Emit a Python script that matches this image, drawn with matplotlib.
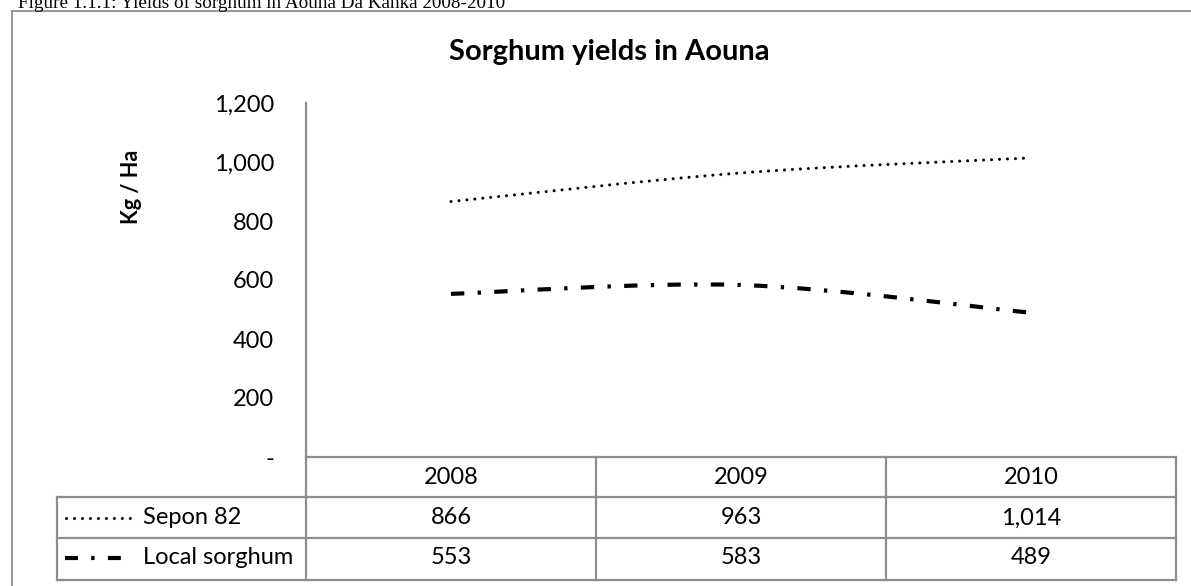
import matplotlib
matplotlib.use('Agg')
import matplotlib.pyplot as plt
import matplotlib.transforms as mtransforms
from matplotlib.path import Path
from matplotlib.patches import PathPatch, Rectangle
from matplotlib.lines import Line2D

# 数据
years = ['2008', '2009', '2010']
sepon_82 = [866, 963, 1014]
local_sorghum = [553, 583, 489]
series_names = ['Sepon 82', 'Local sorghum']
y_ticks = [0, 200, 400, 600, 800, 1000, 1200]
y_tick_labels = ['-', '200', '400', '600', '800', '1,000', '1,200']

W, H = 1191, 586
FONT = ['Lato', 'DejaVu Sans']
GRID = '#8c8c8c'
FS = 17
DOTTED = (0, (0.01, 2.6))
DASHDOT = (0, (3.2, 3.2, 0.8, 3.2))


def fx(x):
    return x / W


def fy(y):
    return 1 - y / H


def smooth_path(xs, ys):
    # 平滑曲线（类似 Excel 的 smoothed line）
    verts = [(xs[0], ys[0])]
    codes = [Path.MOVETO]
    n = len(xs)
    for i in range(n - 1):
        a = i - 1 if i > 0 else i
        b = i + 2 if i + 2 < n else i + 1
        c1 = (xs[i] + (xs[i + 1] - xs[a]) / 6, ys[i] + (ys[i + 1] - ys[a]) / 6)
        c2 = (xs[i + 1] - (xs[b] - xs[i]) / 6, ys[i + 1] - (ys[b] - ys[i]) / 6)
        verts += [c1, c2, (xs[i + 1], ys[i + 1])]
        codes += [Path.CURVE4] * 3
    return Path(verts, codes)


fig = plt.figure(figsize=(W / 100, H / 100), dpi=100)

# 图注（顶部被裁掉一部分）
fig.text(fx(18), fy(8), 'Figure 1.1.1: Yields of sorghum in Aouna Da Kanka 2008-2010',
         family='Liberation Serif', fontsize=13.8, va='baseline', ha='left')

# 外框（右边在画面外）
fig.patches.append(Rectangle((fx(12), -0.1), 1.1, fy(11) + 0.1,
                             transform=fig.transFigure, fill=False,
                             edgecolor='#999999', lw=1.5))

# 绘图区
ax = fig.add_axes([fx(306), fy(457), fx(1176) - fx(306), fy(103) - fy(457)])
ax.set_xlim(-0.5, len(years) - 0.5)
ax.set_ylim(0, 1200)
ax.set_yticks(y_ticks)
ax.set_yticklabels(y_tick_labels, family=FONT, fontsize=FS)
ax.tick_params(axis='y', length=0, pad=23)
ax.set_xticks([])
for s in ax.spines.values():
    s.set_visible(False)
ax.patch.set_alpha(0)

xs = list(range(len(years)))
ax.add_patch(PathPatch(smooth_path(xs, sepon_82), fill=False, lw=2.2,
                       linestyle=DOTTED, capstyle='round', edgecolor='black'))
ax.add_patch(PathPatch(smooth_path(xs, local_sorghum), fill=False, lw=3,
                       linestyle=DASHDOT, capstyle='butt', edgecolor='black'))

fig.text(fx(609), fy(60), 'Sorghum yields in Aouna', family=FONT, fontsize=21,
         weight='bold', ha='center', va='baseline')
fig.text(fx(132), fy(187), 'Kg / Ha', family=FONT, fontsize=15.6, weight='bold',
         rotation=90, ha='center', va='center')

# 数据表
bt = mtransforms.blended_transform_factory(ax.transData, fig.transFigure)
row_y = [457, 497, 538, 580]
fig.add_artist(Line2D([fx(306), fx(306)], [fy(103), fy(580)], color=GRID, lw=1.6))
for k, y in enumerate(row_y):
    x0 = fx(306) if k == 0 else fx(57)
    fig.add_artist(Line2D([x0, fx(1176)], [fy(y), fy(y)], color=GRID, lw=1.6))
fig.add_artist(Line2D([fx(57), fx(57)], [fy(497), fy(580)], color=GRID, lw=1.6))
for j in range(len(years)):
    ax.add_artist(Line2D([j + 0.5, j + 0.5], [fy(457), fy(580)], transform=bt,
                         color=GRID, lw=1.6, clip_on=False))

for j, yr in enumerate(years):
    ax.text(j, fy(477), yr, transform=bt, ha='center', va='center',
            family=FONT, fontsize=FS)
    for vals, yc in [(sepon_82, 518), (local_sorghum, 558)]:
        ax.text(j, fy(yc), f'{vals[j]:,}', transform=bt, ha='center',
                va='center', family=FONT, fontsize=FS)

# 图例（表格左列）
fig.add_artist(Line2D([fx(66), fx(135)], [fy(518), fy(518)], color='black', lw=2.2,
                      linestyle=DOTTED, dash_capstyle='round'))
fig.add_artist(Line2D([fx(65), fx(126)], [fy(558), fy(558)], color='black', lw=3,
                      linestyle=(0, (3.1, 3.2, 0.8, 3.2)), dash_capstyle='butt'))
fig.text(fx(143), fy(518), series_names[0], family=FONT, fontsize=FS, va='center')
fig.text(fx(143), fy(558), series_names[1], family=FONT, fontsize=FS, va='center')

fig.savefig('out.png', dpi=100)
